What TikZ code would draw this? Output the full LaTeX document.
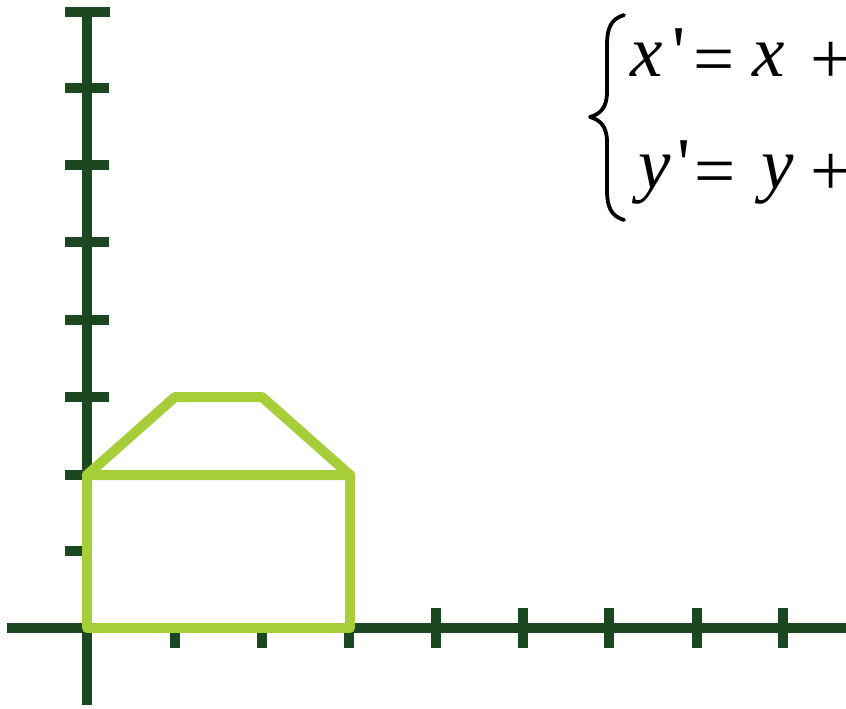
\documentclass[tikz,border=0pt]{standalone}
\usepackage{fontspec}
\newfontfamily\eqfont{Liberation Serif}
\definecolor{axisgreen}{HTML}{1B4721}
\definecolor{shapegreen}{HTML}{A6CE39}
\tikzset{
  axisline/.style={draw=axisgreen, line width=10pt},
  tickline/.style={draw=axisgreen, line width=10.5pt},
  shapeline/.style={draw=shapegreen, line width=10pt, line join=round, fill=white},
  eqtext/.style={anchor=base west, inner sep=0pt, font=\eqfont\fontsize{73}{80}\selectfont},
}
\begin{document}
\begin{tikzpicture}[x=1pt,y=-1pt]
\useasboundingbox (0,0) rectangle (846,709);
\clip (0,0) rectangle (846,709);
% axes
\draw[axisline] (87,12) -- (87,705);
\draw[tickline] (65,12) -- (110,12);
\foreach \yy in {88,165,242,320,397,475,551}
  \draw[tickline] (65,\yy) -- (109,\yy);
\draw[axisline] (7,628) -- (846,628);
\foreach \xx in {175,262,349,436,523,609,697,783}
  \draw[tickline] (\xx,608) -- (\xx,648);
% shape
\draw[shapeline] (87,628) -- (87,475) -- (350,475) -- (350,628) -- cycle;
\draw[shapeline] (87,475) -- (175,397) -- (262,397) -- (350,475) -- cycle;
% equations
\node[eqtext] (x0) at (630,77) {\itshape x};
\node[eqtext] (pr1) at (672,77) {'};
\node[eqtext] (eq1) at (693,83) {=};
\node[eqtext] (x1) at (752,77) {\itshape x};
\node[eqtext] (pl1) at (810,83) {+};
\node[eqtext] (y0) at (638,188) {\itshape y};
\node[eqtext] (pr2) at (677,188) {'};
\node[eqtext] (eq2) at (694,195) {=};
\node[eqtext] (y1) at (761,188) {\itshape y};
\node[eqtext] (pl2) at (810,195) {+};
% brace
\draw[line width=3.8pt, line cap=round, line join=round]
  (624,15) .. controls (611,19) and (607,28) .. (607,45)
  -- (607,92) .. controls (607,108) and (600,114) .. (590,117)
  .. controls (600,120) and (607,126) .. (607,142)
  -- (607,190) .. controls (607,207) and (611,216) .. (624,220);
\end{tikzpicture}
\end{document}
